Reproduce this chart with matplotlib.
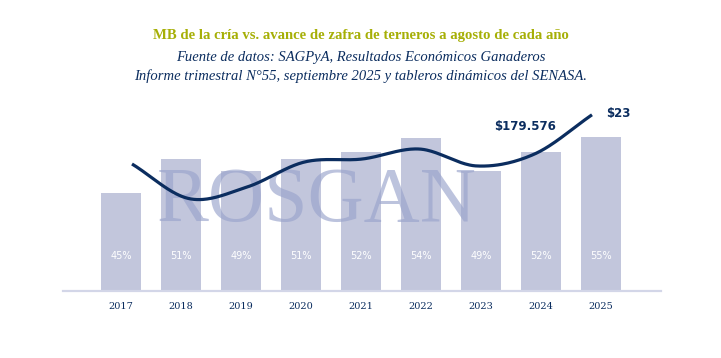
import matplotlib
matplotlib.use("Agg")
import matplotlib.pyplot as plt
import numpy as np

# datos
anios = ['2017', '2018', '2019', '2020', '2021', '2022', '2023', '2024', '2025']
avance_zafra = [45.0, 50.8, 48.7, 50.8, 51.9, 54.4, 48.7, 51.9, 54.6]   # % de terneros
mb_cria = [166.5, 121.0, 136.3, 169.1, 173.0, 186.1, 163.9, 179.576, 231.0]  # miles de $

etiquetas_mb = {7: '$179.576', 8: '$23'}

AZUL = '#0b2d5f'
BARRA = '#c2c6dc'
OLIVA = '#a6af06'

W, H = 721, 358


def catmull_rom(x, y, n=40):
    x = np.asarray(x, float)
    y = np.asarray(y, float)
    px = np.concatenate([[2 * x[0] - x[1]], x, [2 * x[-1] - x[-2]]])
    py = np.concatenate([[2 * y[0] - y[1]], y, [2 * y[-1] - y[-2]]])
    xs, ys = [], []
    t = np.linspace(0, 1, n)
    for i in range(1, len(px) - 2):
        for p, out in ((px, xs), (py, ys)):
            p0, p1, p2, p3 = p[i - 1], p[i], p[i + 1], p[i + 2]
            out.append(0.5 * ((2 * p1) + (-p0 + p2) * t
                              + (2 * p0 - 5 * p1 + 4 * p2 - p3) * t**2
                              + (-p0 + 3 * p1 - 3 * p2 + p3) * t**3))
    return np.concatenate(xs), np.concatenate(ys)


fig = plt.figure(figsize=(W / 100, H / 100), dpi=100)
pos = [63 / W, (H - 291) / H, (661 - 63) / W, (291 - 90) / H]
ax = fig.add_axes(pos)

x = np.arange(len(anios))
ax.bar(x, avance_zafra, width=0.68, color=BARRA, zorder=1)
ax.set_xlim(-0.967, 9.0)
ax.set_ylim(28.4, 62.5)
for xi, v in zip(x, avance_zafra):
    ax.text(xi, 28.4 + 35 / 5.9, f"{round(v)}%", ha='center', va='center',
            color='white', fontsize=7, family='DejaVu Sans', zorder=4)

ax.set_xticks(x)
ax.set_xticklabels(anios, fontsize=7, color=AZUL, family='DejaVu Serif')
ax.tick_params(length=0, pad=8)
ax.set_yticks([])
for s in ['top', 'right', 'left']:
    ax.spines[s].set_visible(False)
ax.spines['bottom'].set_color('#d3d6e8')
ax.spines['bottom'].set_linewidth(1.6)

# marca de agua
ax.text((317 - 63) / 598, (291 - 202) / 201, 'ROSGAN', transform=ax.transAxes,
        ha='center', va='center', fontsize=56, family='Liberation Serif',
        color=(0.60, 0.64, 0.80), alpha=0.65, zorder=2)

# línea del margen bruto
ax2 = fig.add_axes(pos)
ax2.patch.set_visible(False)
ax2.set_xlim(-1.2, 9.2)
ax2.set_ylim(0, 263.5)
ax2.axis('off')
xs, ys = catmull_rom(x, mb_cria)
ax2.plot(xs, ys, color=AZUL, lw=2.3, solid_capstyle='butt')
ax2.annotate(etiquetas_mb[7], (x[7], mb_cria[7]), xytext=(-7, 20),
             textcoords='offset points', ha='center', va='center',
             fontsize=8.5, fontweight='bold', color=AZUL, family='DejaVu Sans')
ax2.annotate(etiquetas_mb[8], (x[8], mb_cria[8]), xytext=(19, 1),
             textcoords='offset points', ha='center', va='center',
             fontsize=8.5, fontweight='bold', color=AZUL, family='DejaVu Sans')

fig.text(0.5, 1 - 35 / H, 'MB de la cría vs. avance de zafra de terneros a agosto de cada año',
         ha='center', va='center', fontsize=10.6, fontweight='bold',
         color=OLIVA, family='Liberation Serif')
fig.text(0.5, 1 - 58 / H, 'Fuente de datos: SAGPyA, Resultados Económicos Ganaderos',
         ha='center', va='center', fontsize=10.5, style='italic',
         color=AZUL, family='Liberation Serif')
fig.text(0.5, 1 - 76 / H,
         'Informe trimestral N°55, septiembre 2025 y tableros dinámicos del SENASA.',
         ha='center', va='center', fontsize=10.5, style='italic',
         color=AZUL, family='Liberation Serif')

fig.savefig('out.png', dpi=100)
